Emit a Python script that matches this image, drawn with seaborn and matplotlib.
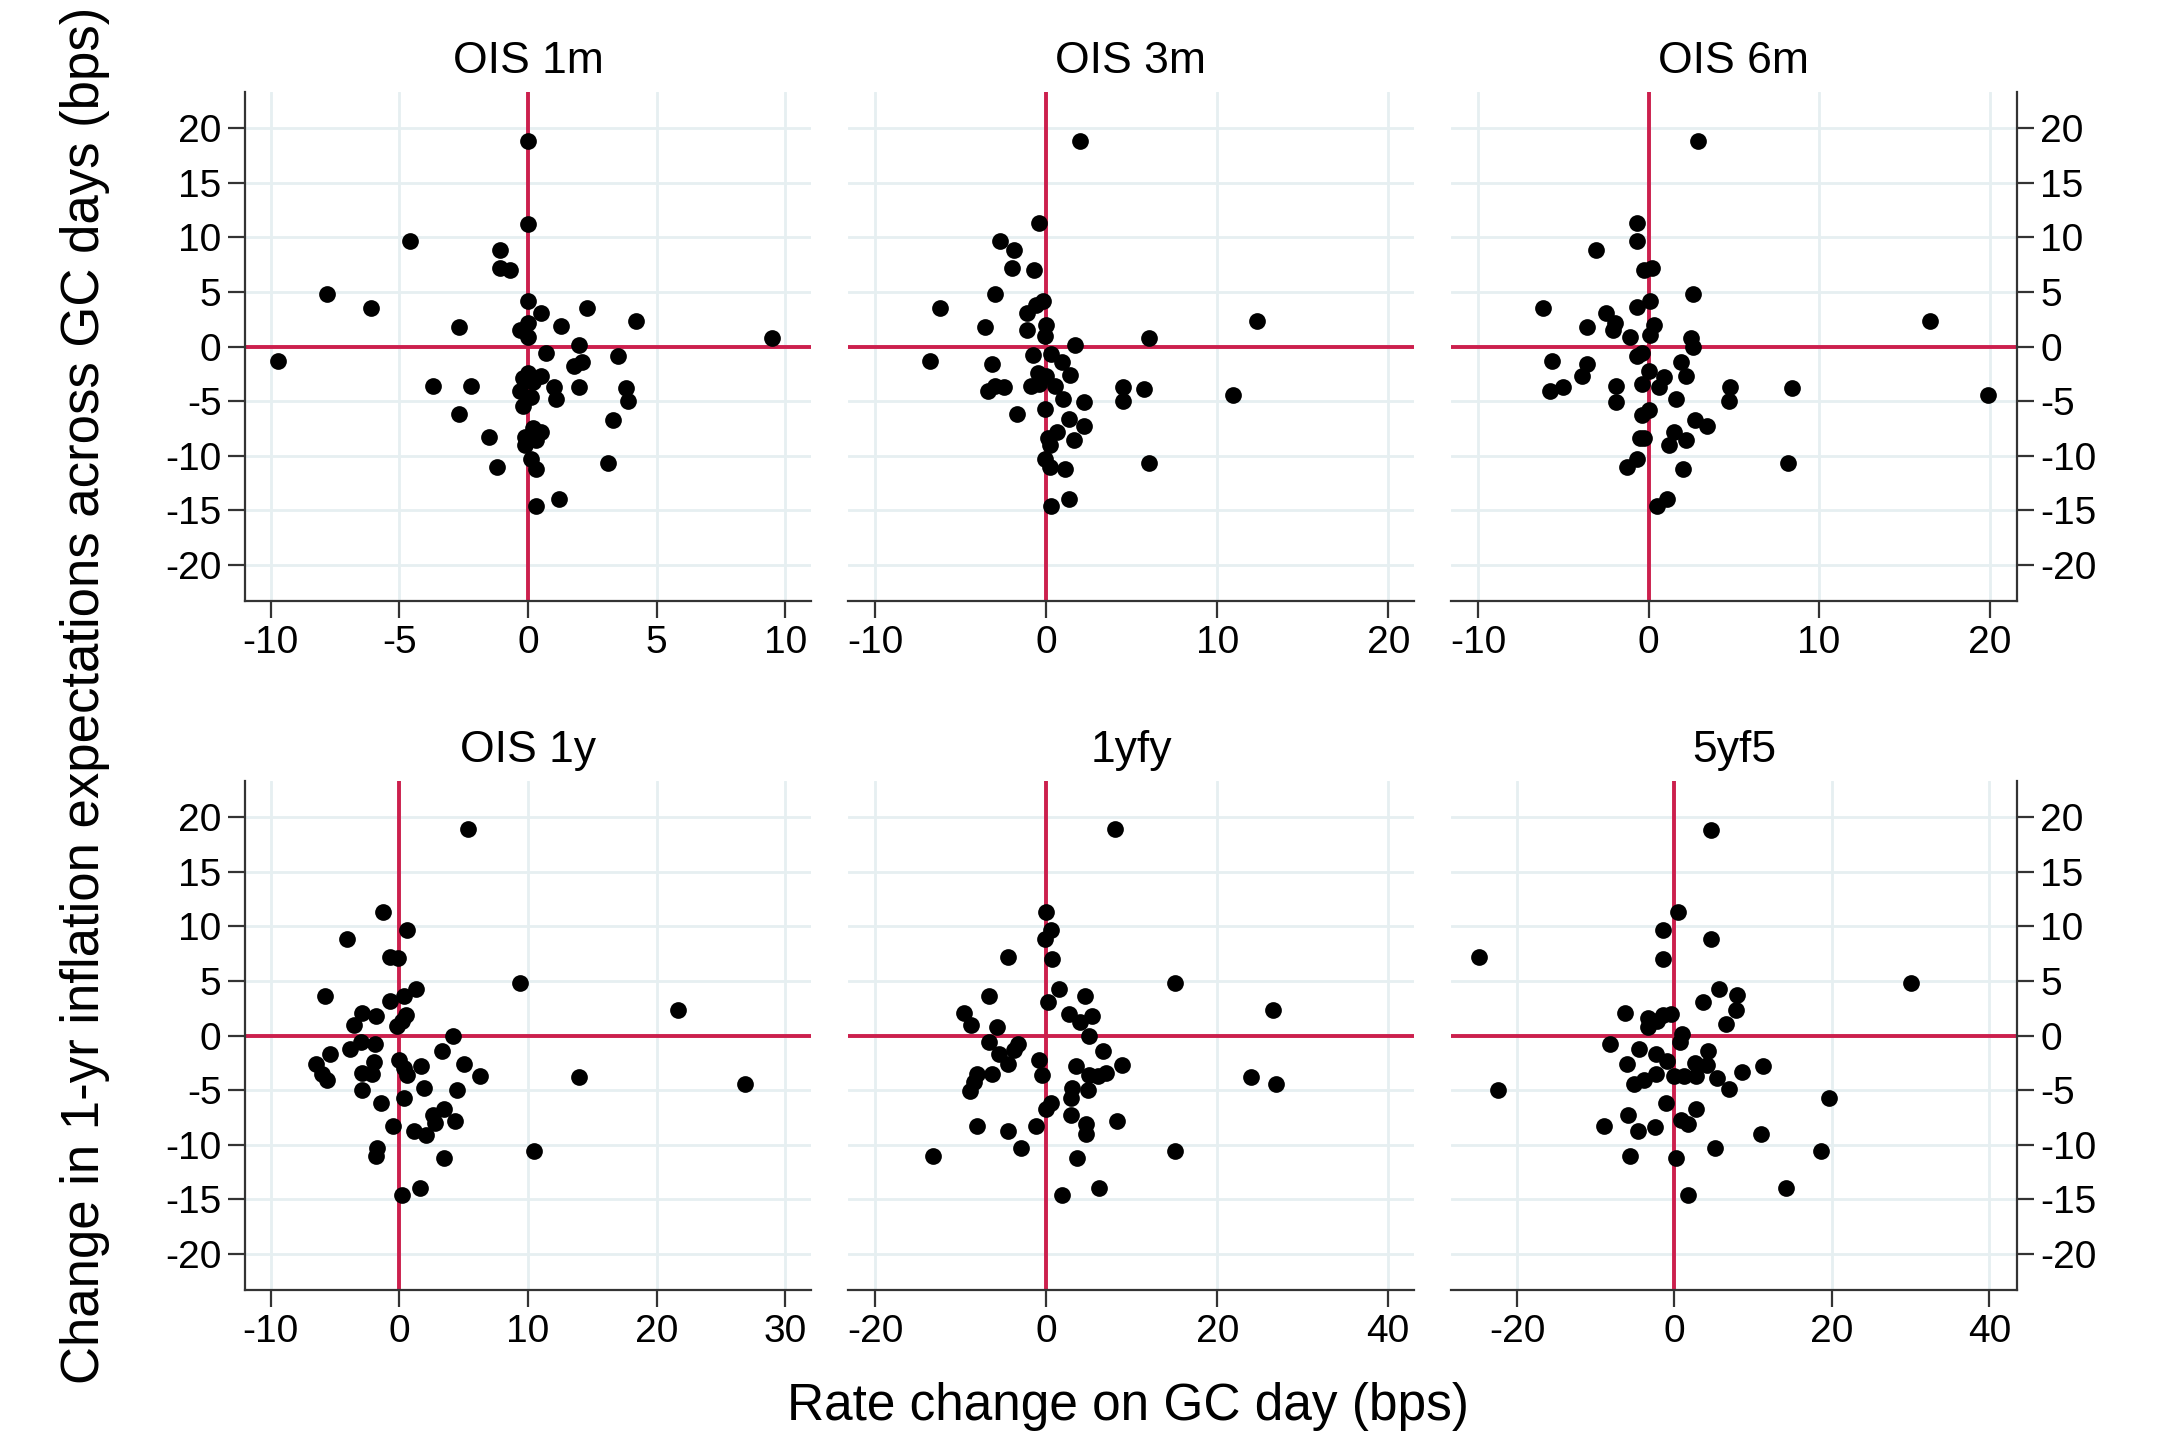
import numpy as np
import pandas as pd
import seaborn as sns
from matplotlib import pyplot as plt

# values (bps)
ois1m_x = [0, 0, -4.6, -1.1, -1.1, -0.7, -7.8, -6.1, 0, 0.5, 2.3, -2.7, 1.3, 4.2, 0, -0.3, 0, 9.5, 2.0, -9.7,
           0.7, 3.5, 2.1, 1.8, -3.7, -2.2, 0, 0.5, -0.2, 0.2, -0.3, 1.0, 1.1, 2.0, 3.8, 3.9, -0.2, -2.7, 3.3, 0.2,
           0.5, -0.1, -0.1, -1.5, 0.1, 0.3, -1.2, 3.1, 1.2, 0.3, -0.1, 0.1, 0.3]
ois1m_y = [18.8, 11.2, 9.7, 8.8, 7.2, 7.0, 4.8, 3.5, 4.2, 3.1, 3.5, 1.8, 1.9, 2.3, 2.2, 1.5, 0.9, 0.8, 0.1, -1.3,
           -0.6, -0.9, -1.4, -1.8, -3.6, -3.6, -2.4, -2.7, -2.9, -3.2, -4.1, -3.7, -4.8, -3.7, -3.8, -5.0, -5.4, -6.2, -6.7, -7.5,
           -7.8, -8.3, -9.0, -8.3, -10.3, -11.2, -11.0, -10.7, -14.0, -14.6, -3.0, -4.6, -8.6]

ois3m_x = [2.0, -0.4, -2.7, -1.9, -2.0, -0.7, -3.0, -6.2, -0.2, -0.6, -1.1, -3.6, -1.1, 0.0, -0.1, 12.3, 6.0, 1.7, -6.8, -0.8,
           0.3, 0.9, -3.2, -0.5, 0.0, 1.4, -3.4, -3.0, -2.5, -0.9, -0.4, 0.5, 1.0, 2.2, 4.5, 4.5, 5.7, 10.9, -0.1, -1.7,
           1.3, 2.2, 0.6, 0.1, 0.2, 1.6, -0.1, 0.2, 1.1, 6.0, 1.3, 0.3]
ois3m_y = [18.8, 11.3, 9.7, 8.8, 7.2, 7.0, 4.8, 3.5, 4.2, 3.8, 3.1, 1.8, 1.5, 2.0, 1.0, 2.3, 0.8, 0.1, -1.3, -0.8,
           -0.7, -1.4, -1.6, -2.4, -2.7, -2.6, -4.1, -3.6, -3.7, -3.6, -3.4, -3.6, -4.8, -5.1, -3.7, -5.0, -3.9, -4.4, -5.7, -6.2,
           -6.6, -7.3, -7.8, -8.4, -9.0, -8.6, -10.3, -11.0, -11.2, -10.7, -14.0, -14.6]

ois6m_x = [2.9, -0.7, -0.7, -3.1, -0.3, 0.2, 2.6, -6.2, 0.1, -0.7, -2.5, -2.0, -2.1, -3.6, -1.1, 0.3, 0.1, 16.5, 2.5, 2.6,
           -0.4, -0.7, -5.7, -3.6, -3.9, 1.9, 2.2, 0.0, 0.9, 0.6, -0.4, -5.8, -5.0, -1.9, -1.9, 1.6, 4.8, 4.7, 8.4, 19.9,
           0.0, -0.4, 2.7, 3.4, 1.5, -0.3, -0.5, 2.2, 1.2, -0.7, -1.3, 2.0, 8.2, 1.1, 0.5]
ois6m_y = [18.8, 11.3, 9.7, 8.8, 7.0, 7.2, 4.8, 3.5, 4.2, 3.6, 3.1, 2.2, 1.5, 1.8, 0.9, 2.0, 1.1, 2.3, 0.8, 0.0,
           -0.6, -0.9, -1.3, -1.6, -2.7, -1.4, -2.7, -2.2, -2.8, -3.7, -3.4, -4.1, -3.7, -3.6, -5.1, -4.8, -3.7, -5.0, -3.8, -4.4,
           -5.8, -6.3, -6.7, -7.3, -7.8, -8.4, -8.4, -8.6, -9.0, -10.3, -11.0, -11.2, -10.7, -14.0, -14.6]

ois1y_x = [5.3, -1.3, 0.6, -4.1, -0.7, -0.1, 9.4, 1.3, -5.8, -0.7, 0.4, -2.9, -1.8, -3.5, 0.5, 0.2, -0.2, 21.7, 4.2, -3.0,
           -3.8, -1.9, -5.4, 3.3, -6.5, -6.0, -5.6, -2.0, -2.1, -2.9, 0.0, 0.4, 0.6, 1.7, 5.0, 6.3, 14.0, 26.9, -2.9, 1.9,
           4.5, 0.4, -1.4, 3.5, 2.6, 2.8, 4.3, -0.5, 1.1, 2.1, -1.7, -1.8, 10.5, 3.5, 1.6, 0.2]
ois1y_y = [18.9, 11.3, 9.7, 8.8, 7.2, 7.1, 4.8, 4.3, 3.6, 3.2, 3.6, 2.1, 1.8, 1.0, 1.9, 1.3, 0.9, 2.3, 0.0, -0.6,
           -1.2, -0.8, -1.7, -1.4, -2.6, -3.5, -4.1, -2.4, -3.5, -3.4, -2.2, -3.0, -3.6, -2.8, -2.6, -3.7, -3.8, -4.4, -5.0, -4.8,
           -5.0, -5.7, -6.2, -6.7, -7.3, -8.0, -7.8, -8.3, -8.7, -9.1, -10.3, -11.0, -10.6, -11.2, -14.0, -14.6]

fy1_x = [8.0, 0.0, 0.6, -0.1, -4.5, 0.7, 15.0, 1.5, -6.7, 4.5, 0.2, -9.6, -8.8, -5.8, 2.7, 3.9, 5.4, 26.5, 5.0, -6.7,
         -3.3, -3.8, -5.5, 6.6, -4.5, -0.8, 3.5, 8.8, -8.1, -6.4, -8.5, -8.9, -0.5, 5.0, 6.0, 7.0, 24.0, 26.9, 3.0, 4.9,
         2.9, 0.6, 0.0, 2.9, 8.3, 4.6, 4.7, -8.1, -4.5, -1.2, -3.0, -13.2, 15.1, 3.6, 6.2, 1.8]
fy1_y = [18.9, 11.3, 9.7, 8.8, 7.2, 7.0, 4.8, 4.3, 3.6, 3.6, 3.1, 2.1, 1.0, 0.8, 2.0, 1.2, 1.8, 2.3, 0.0, -0.6,
         -0.8, -1.3, -1.7, -1.4, -2.6, -2.2, -2.8, -2.7, -3.5, -3.5, -4.3, -5.1, -3.6, -3.6, -3.7, -3.4, -3.8, -4.4, -4.8, -5.0,
         -5.7, -6.2, -6.7, -7.3, -7.8, -8.1, -9.0, -8.3, -8.7, -8.3, -10.3, -11.0, -10.6, -11.2, -14.0, -14.6]

fy5_x = [4.6, 0.4, -1.4, 4.6, -24.8, -1.4, 30.0, 5.6, 8.0, 3.6, 7.8, -6.3, 6.6, -3.4, -2.2, -3.4, -1.5, -0.5, 0.9, 0.7,
         -8.2, -4.5, -2.3, -1.0, 4.2, -6.0, 2.6, 4.1, 11.3, 8.6, -2.4, -3.9, -5.2, 0.0, 1.2, 2.7, 5.4, 6.9, -22.4, 19.7,
         -1.1, 2.8, -5.9, 0.8, 1.7, -2.5, -8.9, -4.6, 11.0, 5.1, 18.6, -5.7, 0.2, 14.2, 1.7]
fy5_y = [18.8, 11.3, 9.7, 8.8, 7.2, 7.0, 4.8, 4.3, 3.7, 3.1, 2.3, 2.1, 1.1, 1.6, 1.3, 0.8, 1.9, 2.0, 0.1, -0.6,
         -0.8, -1.2, -1.7, -2.3, -1.4, -2.6, -2.5, -2.7, -2.8, -3.3, -3.5, -4.1, -4.4, -3.7, -3.7, -3.7, -3.9, -4.9, -5.0, -5.7,
         -6.2, -6.7, -7.3, -7.7, -8.1, -8.4, -8.3, -8.7, -9.0, -10.3, -10.6, -11.0, -11.2, -14.0, -14.6]

titles = ['OIS 1m', 'OIS 3m', 'OIS 6m', 'OIS 1y', '1yfy', '5yf5']
xs = [ois1m_x, ois3m_x, ois6m_x, ois1y_x, fy1_x, fy5_x]
ys = [ois1m_y, ois3m_y, ois6m_y, ois1y_y, fy1_y, fy5_y]
xticks = [[-10, -5, 0, 5, 10], [-10, 0, 10, 20], [-10, 0, 10, 20],
          [-10, 0, 10, 20, 30], [-20, 0, 20, 40], [-20, 0, 20, 40]]
xlims = [(-11, 11), (-11.6, 21.5), (-11.6, 21.6), (-12, 32), (-23.2, 43), (-28.4, 43.5)]
yticks = [20, 15, 10, 5, 0, -5, -10, -15, -20]

sns.set_theme(style='white')
plt.rcParams['font.family'] = ['Liberation Sans', 'DejaVu Sans']
plt.rcParams['axes.unicode_minus'] = False
plt.rcParams['text.color'] = 'black'
plt.rcParams['xtick.color'] = 'black'
plt.rcParams['ytick.color'] = 'black'

fig, axes = plt.subplots(2, 3, figsize=(21.57, 14.40), dpi=100)
fig.subplots_adjust(left=0.1136, right=0.935, top=0.936, bottom=0.1042, wspace=0.0656, hspace=0.354)

grid_c = '#e6eff1'
zero_c = '#cc1f4d'
spine_c = '#333333'

for i, ax in enumerate(axes.flat):
    col = i % 3
    df = pd.DataFrame({'x': xs[i], 'y': ys[i]})
    ax.set_xlim(*xlims[i])
    ax.set_ylim(-23.3, 23.3)
    ax.set_xticks(xticks[i])
    ax.set_yticks(yticks)
    for t in xticks[i]:
        ax.axvline(t, color=grid_c, lw=2, zorder=0)
    for t in yticks:
        ax.axhline(t, color=grid_c, lw=2, zorder=0)
    ax.axhline(0, color=zero_c, lw=2.8, zorder=1)
    ax.axvline(0, color=zero_c, lw=2.8, zorder=1)
    sns.scatterplot(data=df, x='x', y='y', ax=ax, color='black', s=145, linewidth=0, zorder=3)
    ax.set_xlabel('')
    ax.set_ylabel('')
    ax.set_title(titles[i], fontsize=32, pad=14, color='black')
    for s in ['top', 'left', 'right', 'bottom']:
        ax.spines[s].set_visible(False)
    ax.spines['bottom'].set_visible(True)
    ax.spines['bottom'].set_color(spine_c)
    ax.spines['bottom'].set_linewidth(1.6)
    ax.tick_params(axis='x', bottom=True, length=12, width=1.6, color=spine_c, labelsize=28, pad=5,
                   labelcolor='black')
    if col == 0:
        ax.spines['left'].set_visible(True)
        ax.spines['left'].set_color(spine_c)
        ax.spines['left'].set_linewidth(1.6)
        ax.tick_params(axis='y', left=True, length=12, width=1.6, color=spine_c, labelsize=28, pad=5,
                       labelcolor='black')
    elif col == 2:
        ax.spines['right'].set_visible(True)
        ax.spines['right'].set_color(spine_c)
        ax.spines['right'].set_linewidth(1.6)
        ax.yaxis.tick_right()
        ax.tick_params(axis='y', right=True, left=False, length=12, width=1.6, color=spine_c, labelsize=28, pad=5,
                       labelcolor='black')
    else:
        ax.tick_params(axis='y', left=False, right=False, labelleft=False)
    ax.grid(False)

fig.text(0.523, 0.023, 'Rate change on GC day (bps)', ha='center', va='center', fontsize=37, color='black')
fig.text(0.0395, 0.517, 'Change in 1-yr inflation expectations across GC days (bps)',
         ha='center', va='center', rotation=90, fontsize=38, color='black')

fig.savefig('out.png', dpi=100, facecolor='white')
